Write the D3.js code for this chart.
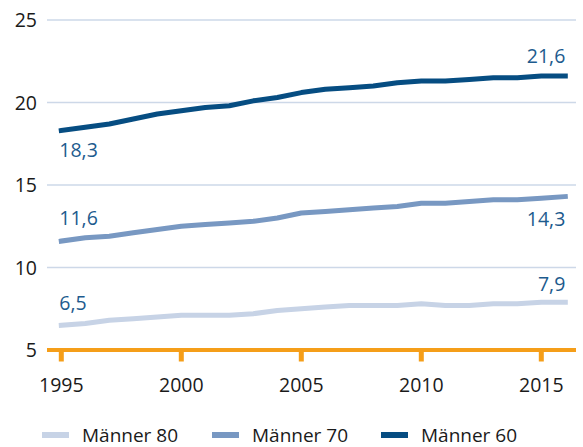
<!DOCTYPE html>
<html>
<head>
<meta charset="utf-8">
<script src="https://cdn.jsdelivr.net/npm/d3@7"></script>
<style>
  body { margin: 0; background: #fff; }
  text { font-family: "Open Sans", "Noto Sans", sans-serif; }
</style>
</head>
<body>
<div id="chart"></div>
<script>
// data
var years = d3.range(1995, 2017);
var maenner80 = [6.5, 6.6, 6.8, 6.9, 7.0, 7.1, 7.1, 7.1, 7.2, 7.4, 7.5, 7.6, 7.7, 7.7, 7.7, 7.8, 7.7, 7.7, 7.8, 7.8, 7.9, 7.9];
var maenner70 = [11.6, 11.8, 11.9, 12.1, 12.3, 12.5, 12.6, 12.7, 12.8, 13.0, 13.3, 13.4, 13.5, 13.6, 13.7, 13.9, 13.9, 14.0, 14.1, 14.1, 14.2, 14.3];
var maenner60 = [18.3, 18.5, 18.7, 19.0, 19.3, 19.5, 19.7, 19.8, 20.1, 20.3, 20.6, 20.8, 20.9, 21.0, 21.2, 21.3, 21.3, 21.4, 21.5, 21.5, 21.6, 21.6];
var seriesNames = ["Männer 80", "Männer 70", "Männer 60"];
var yTicks = [5, 10, 15, 20, 25];
var xTicks = [1995, 2000, 2005, 2010, 2015];

var colors = ["#c7d3e6", "#7898c2", "#064d82"];
var labelColor = "#1d5b8e";

var width = 583, height = 447;

var svg = d3.select("#chart")
  .append("svg")
  .attr("width", width)
  .attr("height", height);

var x = d3.scaleLinear().domain([1995, 2016]).range([61.3, 565.3]);
var y = d3.scaleLinear().domain([5, 25]).range([350, 20]);

// gridlines
svg.append("g")
  .selectAll("line")
  .data(yTicks.filter(function(d) { return d > 5; }))
  .enter()
  .append("line")
    .attr("x1", 47).attr("x2", 576)
    .attr("y1", function(d) { return y(d); })
    .attr("y2", function(d) { return y(d); })
    .attr("stroke", "#cdd8e8")
    .attr("stroke-width", 1.5);

// y labels
svg.append("g")
  .selectAll("text")
  .data(yTicks)
  .enter()
  .append("text")
    .attr("x", 37)
    .attr("y", function(d) { return y(d); })
    .attr("dy", "0.36em")
    .attr("text-anchor", "end")
    .attr("font-size", 19.5)
    .attr("fill", "#1a1a1a")
    .text(function(d) { return d; });

// x axis (orange)
svg.append("line")
  .attr("x1", 47).attr("x2", 576)
  .attr("y1", y(5)).attr("y2", y(5))
  .attr("stroke", "#f59e19")
  .attr("stroke-width", 4);

svg.append("g")
  .selectAll("line")
  .data(xTicks)
  .enter()
  .append("line")
    .attr("x1", function(d) { return x(d); })
    .attr("x2", function(d) { return x(d); })
    .attr("y1", y(5)).attr("y2", y(5) + 11.5)
    .attr("stroke", "#f59e19")
    .attr("stroke-width", 5);

svg.append("g")
  .selectAll("text")
  .data(xTicks)
  .enter()
  .append("text")
    .attr("x", function(d) { return x(d); })
    .attr("y", 392)
    .attr("text-anchor", "middle")
    .attr("font-size", 19.5)
    .attr("fill", "#1a1a1a")
    .text(function(d) { return d; });

// lines
var allSeries = [maenner80, maenner70, maenner60];
var line = d3.line()
  .x(function(d, i) { return x(years[i]); })
  .y(function(d) { return y(d); });

svg.append("g")
  .selectAll("path")
  .data(allSeries)
  .enter()
  .append("path")
    .attr("d", line)
    .attr("fill", "none")
    .attr("stroke", function(d, i) { return colors[i]; })
    .attr("stroke-width", 5)
    .attr("stroke-linejoin", "round")
    .attr("stroke-linecap", "square");

// value labels
var fmt = function(v) { return d3.format(".1f")(v).replace(".", ","); };
var startDy = [-15, -16, 26];
var endDy = [-11, 29, -13];

allSeries.forEach(function(s, i) {
  svg.append("text")
    .attr("x", x(years[0]) - 2)
    .attr("y", y(s[0]) + startDy[i])
    .attr("font-size", 19.5)
    .attr("fill", labelColor)
    .text(fmt(s[0]));
  svg.append("text")
    .attr("x", x(years[years.length - 1]))
    .attr("y", y(s[s.length - 1]) + endDy[i])
    .attr("text-anchor", "end")
    .attr("font-size", 19.5)
    .attr("fill", labelColor)
    .text(fmt(s[s.length - 1]));
});

// legend
var legendX = [42, 212, 381];
var legend = svg.append("g")
  .selectAll("g")
  .data(seriesNames)
  .enter()
  .append("g")
    .attr("transform", function(d, i) { return "translate(" + legendX[i] + ",435)"; });

legend.append("line")
  .attr("x1", 0).attr("x2", 27)
  .attr("stroke", function(d, i) { return colors[i]; })
  .attr("stroke-width", 6);

legend.append("text")
  .attr("x", 40)
  .attr("y", 6.5)
  .attr("font-size", 19)
  .attr("fill", "#1a1a1a")
  .text(function(d) { return d; });
</script>
</body>
</html>
